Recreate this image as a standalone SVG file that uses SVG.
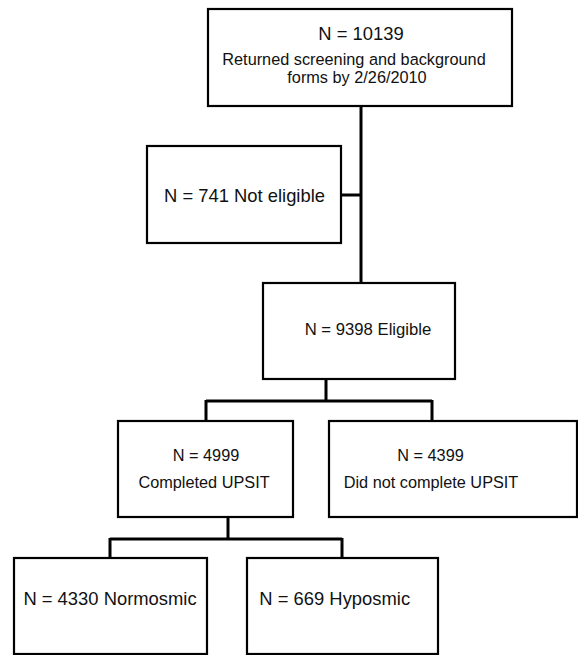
<svg xmlns="http://www.w3.org/2000/svg" width="578" height="655" viewBox="0 0 578 655">
<style>
.box{fill:#fff;stroke:#000;stroke-width:2.2}
.con{fill:none;stroke:#000;stroke-width:3}
text{font-family:"Liberation Sans",Arial,Helvetica,sans-serif;fill:#111;text-anchor:middle}
.lg{font-size:18.4px}
.sm{font-size:16.3px}
</style>
<rect width="578" height="655" fill="#fff"/>
<g id="connectors">
<path class="con" d="M361,106 V283"/>
<path class="con" d="M341,195 H361"/>
<path class="con" d="M326,379 V401 M206,401 H432 M206,400 V421 M432,400 V421"/>
<path class="con" d="M228,517 V539 M110,539 H342 M110,538 V558 M342,538 V558"/>
</g>
<g id="n10139">
<rect class="box" x="208" y="9" width="304" height="97"/>
<text class="lg" x="361" y="40">N = 10139</text>
<text class="sm" x="354" y="64.5">Returned screening and background</text>
<text class="sm" x="357" y="83">forms by 2/26/2010</text>
</g>
<g id="n741">
<rect class="box" x="147" y="146" width="194" height="97"/>
<text class="lg" x="244.5" y="201.5">N = 741 Not eligible</text>
</g>
<g id="n9398">
<rect class="box" x="263" y="283" width="192" height="96"/>
<text class="sm" x="368" y="335" style="font-size:16.7px">N = 9398 Eligible</text>
</g>
<g id="n4999">
<rect class="box" x="118" y="421" width="175" height="96"/>
<text class="sm" x="206" y="461">N = 4999</text>
<text class="sm" x="204" y="488">Completed UPSIT</text>
</g>
<g id="n4399">
<rect class="box" x="329" y="421" width="248" height="96"/>
<text class="sm" x="430.5" y="461">N = 4399</text>
<text class="sm" x="431" y="488">Did not complete UPSIT</text>
</g>
<g id="n4330">
<rect class="box" x="14" y="558" width="193" height="96"/>
<text class="lg" x="110" y="605">N = 4330 Normosmic</text>
</g>
<g id="n669">
<rect class="box" x="247" y="558" width="191" height="96"/>
<text class="lg" x="334.7" y="605">N = 669 Hyposmic</text>
</g>
</svg>
